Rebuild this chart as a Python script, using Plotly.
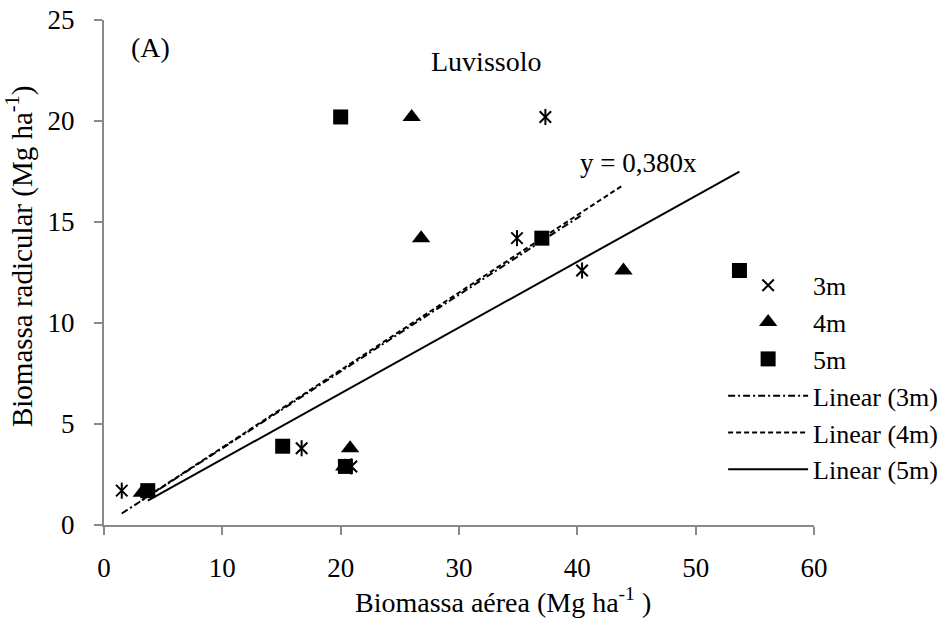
import numpy as np
import plotly.graph_objects as go

# ---- data ----
x_3m = [1.5, 16.7, 20.9, 34.9, 40.4, 37.3]
y_3m = [1.7, 3.8, 2.9, 14.2, 12.6, 20.2]
x_4m = [3.2, 20.8, 20.3, 26.8, 43.9, 26.0]
y_4m = [1.6, 3.8, 2.9, 14.2, 12.6, 20.2]
x_5m = [3.7, 15.1, 20.4, 37.0, 53.7, 20.0]
y_5m = [1.7, 3.9, 2.9, 14.2, 12.6, 20.2]

series_names = ["3m", "4m", "5m"]
x_ticks = [0, 10, 20, 30, 40, 50, 60]
y_ticks = [0, 5, 10, 15, 20, 25]
equation_text = "y = 0,380x"

FONT = "Liberation Serif"
AXIS_COLOR = "#8a8a8a"


def fit_origin(xs, ys):
    xs = np.asarray(xs, float)
    ys = np.asarray(ys, float)
    slope = float((xs * ys).sum() / (xs * xs).sum())
    xl = np.array([xs.min(), xs.max()])
    return xl, slope * xl


fig = go.Figure()

# markers
fig.add_trace(go.Scatter(x=x_3m, y=y_3m, mode="markers", name="3m",
                         marker=dict(symbol="x-thin-open", size=11.5, color="black",
                                     line=dict(color="black", width=2))))
fig.add_trace(go.Scatter(x=x_3m, y=y_3m, mode="markers", name="3m", showlegend=False,
                         marker=dict(symbol="line-ns-open", size=11.5, color="black",
                                     line=dict(color="black", width=2))))
fig.add_trace(go.Scatter(x=x_4m, y=y_4m, mode="markers", name="4m",
                         marker=dict(symbol="triangle-up", size=16, color="black")))
fig.add_trace(go.Scatter(x=x_5m, y=y_5m, mode="markers", name="5m",
                         marker=dict(symbol="square", size=15, color="black")))

# linear trendlines (through origin)
for xs, ys, nm, dash in [(x_3m, y_3m, "3m", "7px,3px,2px,3px"),
                         (x_4m, y_4m, "4m", "5px,3px"),
                         (x_5m, y_5m, "5m", "solid")]:
    xl, yl = fit_origin(xs, ys)
    fig.add_trace(go.Scatter(x=xl, y=yl, mode="lines", name=f"Linear ({nm})",
                             line=dict(color="black", width=2, dash=dash)))

fig.update_layout(
    width=941, height=620,
    margin=dict(l=104, r=127, t=20, b=95, autoexpand=False),
    paper_bgcolor="white", plot_bgcolor="white",
    font=dict(family=FONT, size=26, color="black"),
    showlegend=True,
    legend=dict(x=0.872, y=0.521, xanchor="left", yanchor="top",
                bgcolor="rgba(0,0,0,0)", font=dict(size=26, family=FONT, color="black"),
                itemwidth=80, tracegroupgap=0),
    xaxis=dict(range=[0, 60], tickvals=x_ticks, showgrid=False, zeroline=False,
               showline=True, linecolor=AXIS_COLOR, linewidth=2,
               ticks="outside", ticklen=8, tickwidth=2, tickcolor=AXIS_COLOR,
               tickfont=dict(family=FONT, size=27, color="black"),
               ticklabelstandoff=10, ticklabeloverflow="allow", fixedrange=True),
    yaxis=dict(range=[0, 25], tickvals=y_ticks, showgrid=False, zeroline=False,
               showline=True, linecolor=AXIS_COLOR, linewidth=2,
               ticks="outside", ticklen=8, tickwidth=2, tickcolor=AXIS_COLOR,
               tickfont=dict(family=FONT, size=27, color="black"),
               ticklabelstandoff=14, ticklabeloverflow="allow", fixedrange=True),
    annotations=[
        dict(text="Biomassa aérea (Mg ha<sup>-1</sup> )", xref="paper", yref="paper",
             x=0.562, y=-0.149, xanchor="center", yanchor="middle", showarrow=False,
             font=dict(family=FONT, size=28, color="black")),
        dict(text="Biomassa radicular (Mg ha<sup>-1</sup>)", xref="paper", yref="paper",
             x=-0.118, y=0.531, xanchor="center", yanchor="middle", showarrow=False,
             textangle=-90, font=dict(family=FONT, size=29, color="black")),
        dict(text="Luvissolo", xref="paper", yref="paper", x=0.538, y=0.918,
             xanchor="center", yanchor="middle", showarrow=False,
             font=dict(family=FONT, size=28, color="black")),
        dict(text="(A)", xref="paper", yref="paper", x=0.0648, y=0.9455,
             xanchor="center", yanchor="middle", showarrow=False,
             font=dict(family=FONT, size=28, color="black")),
        dict(text=equation_text, xref="paper", yref="paper", x=0.7535, y=0.7175,
             xanchor="center", yanchor="middle", showarrow=False,
             font=dict(family=FONT, size=27, color="black")),
    ],
)

# remove the browser's default 8px page margin so the figure fills the window
fig.write_html("out.html", config={"displayModeBar": False},
               post_script="document.body.style.margin='0';")
